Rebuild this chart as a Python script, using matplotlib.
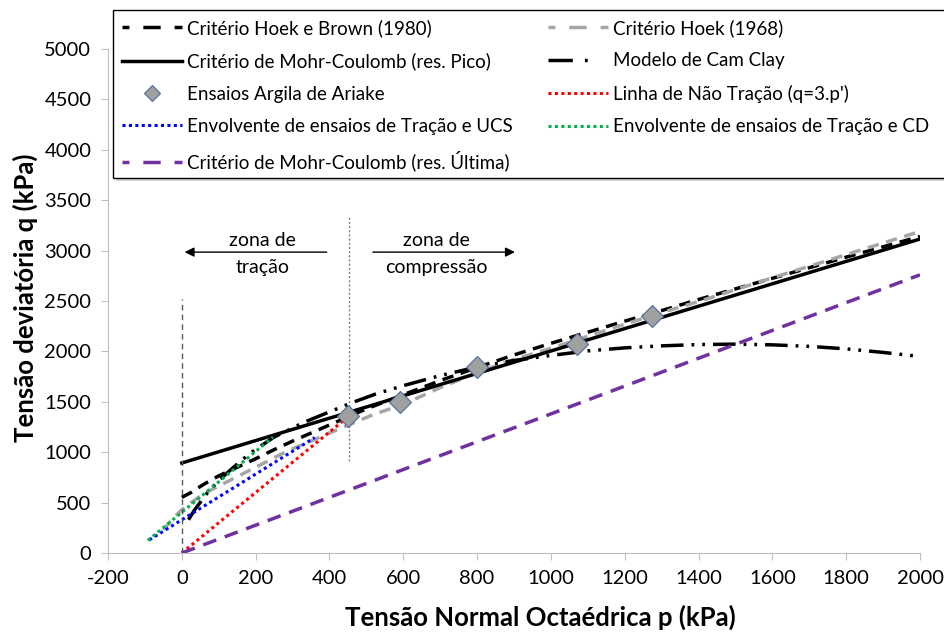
import numpy as np
import matplotlib
matplotlib.use('Agg')
import matplotlib.pyplot as plt
from matplotlib.patches import Rectangle
from matplotlib.lines import Line2D

plt.rcParams['font.family'] = ['Lato', 'DejaVu Sans']
plt.rcParams['axes.unicode_minus'] = False

# Ensaios Argila de Ariake
p_ens = [450, 590, 800, 1070, 1275]
q_ens = [1355, 1500, 1845, 2070, 2350]

# Criterio Hoek e Brown (1980)
p_hb = [0, 25, 50, 75, 100, 150, 200, 250, 300, 350, 400, 450, 500, 600, 700, 800,
        900, 1000, 1100, 1200, 1300, 1400, 1600, 1800, 2000]
q_hb = [552, 600, 660, 715, 765, 850, 935, 1025, 1110, 1190, 1270, 1350, 1430, 1570, 1710, 1840,
        1965, 2080, 2190, 2300, 2405, 2515, 2725, 2935, 3140]

# Criterio Hoek (1968)
p_hk = [-50, -20, 10, 60, 130, 200, 285, 400, 520, 600, 700, 800, 900, 1000, 1100,
        1200, 1300, 1400, 1600, 1800, 2000]
q_hk = [230, 360, 460, 590, 720, 850, 1010, 1190, 1375, 1475, 1640, 1790, 1920, 2030, 2150,
        2270, 2385, 2495, 2730, 2960, 3190]

# Mohr-Coulomb pico / ultima
p_mc = [0, 2000]
q_mc = [893, 3115]
p_mcu = [0, 2000]
q_mcu = [0, 2760]

# Modelo de Cam Clay
p_cc = [18, 35, 70, 100, 140, 185, 250, 330, 400, 460, 525, 600, 700, 800, 900, 1000,
        1100, 1200, 1300, 1400, 1500, 1600, 1700, 1800, 1900, 2000]
q_cc = [330, 430, 600, 720, 850, 990, 1150, 1295, 1400, 1490, 1577, 1660, 1760, 1845, 1910, 1960,
        2005, 2035, 2055, 2068, 2072, 2065, 2050, 2025, 1990, 1950]

# Linha de nao tracao (q = 3p) e envolventes
p_nt = [0, 440]
q_nt = [0, 1320]
p_ucs = [-88, 360]
q_ucs = [130, 1145]
p_cd = [-92, 247]
q_cd = [125, 1150]

fig = plt.figure(figsize=(9.45, 6.32), dpi=100)
ax = fig.add_axes([108 / 945, 1 - 553 / 632, 812 / 945, 504 / 632])

lw = 2.5
hb_style = (0, (3.3, 2.2))
h_hb, = ax.plot(p_hb, q_hb, color='black', lw=lw, ls=hb_style, label='Critério Hoek e Brown (1980)')
h_hk, = ax.plot(p_hk, q_hk, color='#a6a6a6', lw=lw, ls=hb_style, label='Critério Hoek (1968)')
h_mc, = ax.plot(p_mc, q_mc, color='black', lw=lw, label='Critério de Mohr-Coulomb (res. Pico)')
h_cc, = ax.plot(p_cc, q_cc, color='black', lw=lw, ls=(0, (6.5, 2.3, 0.8, 2.3, 0.8, 2.3)),
                label='Modelo de Cam Clay')
h_nt, = ax.plot(p_nt, q_nt, color='#ff0000', lw=2.2, ls=(0, (1, 1.1)), label="Linha de Não Tração (q=3.p')")
h_ucs, = ax.plot(p_ucs, q_ucs, color='#0000ff', lw=2.2, ls=(0, (1, 1.1)),
                 label='Envolvente de ensaios de Tração e UCS')
h_cd, = ax.plot(p_cd, q_cd, color='#00b050', lw=2.2, ls=(0, (1, 1.1)),
                label='Envolvente de ensaios de Tração e CD')
h_mcu, = ax.plot(p_mcu, q_mcu, color='#7030a0', lw=lw, ls=(0, (4, 2.6)),
                 label='Critério de Mohr-Coulomb (res. Última)')
h_ens, = ax.plot(p_ens, q_ens, ls='none', marker='D', ms=11, mfc='#a0a0a0', mec='#4f6b9a',
                 mew=0.8, zorder=5, label='Ensaios Argila de Ariake')

# zona de tracao / compressao
ax.plot([0, 0], [0, 2520], color='#595959', lw=1, ls=(0, (4, 3)))
ax.plot([453, 453], [910, 3330], color='#808080', lw=1, ls=(0, (1.5, 1.5)))
ax.annotate('', xy=(0, 2985), xytext=(400, 2985),
            arrowprops=dict(arrowstyle='-|>', color='black', lw=1, mutation_scale=14))
ax.annotate('', xy=(910, 2985), xytext=(510, 2985),
            arrowprops=dict(arrowstyle='-|>', color='black', lw=1, mutation_scale=14))
ax.text(219, 3100, 'zona de', ha='center', va='center', fontsize=14)
ax.text(219, 2830, 'tração', ha='center', va='center', fontsize=14)
ax.text(690, 3100, 'zona de', ha='center', va='center', fontsize=14)
ax.text(690, 2830, 'compressão', ha='center', va='center', fontsize=14)

ax.set_xlim(-200, 2000)
ax.set_ylim(0, 5000)
ax.set_xticks(np.arange(-200, 2001, 200))
ax.set_yticks(np.arange(0, 5001, 500))
for s in ['top', 'right']:
    ax.spines[s].set_visible(False)
for s in ['left', 'bottom']:
    ax.spines[s].set_color('#bfbfbf')
ax.tick_params(direction='out', length=5, color='#bfbfbf', labelsize=14.5, pad=7)

fig.text(540 / 945, 1 - 617 / 632, 'Tensão Normal Octaédrica p (kPa)', fontsize=18.5,
         fontweight='bold', ha='center', va='center')
fig.text(25 / 945, 1 - 298 / 632, 'Tensão deviatória q (kPa)', fontsize=18.5,
         fontweight='bold', ha='center', va='center', rotation=90)

# caixa da legenda com sombra
fig.patches.append(Rectangle((116 / 945, 1 - 181 / 632), 840 / 945, 168 / 632, transform=fig.transFigure,
                             facecolor='#bbbbbb', edgecolor='none', alpha=0.6, zorder=4))
fig.patches.append(Rectangle((113 / 945, 1 - 178 / 632), 840 / 945, 168 / 632, transform=fig.transFigure,
                             facecolor='white', edgecolor='black', lw=1, zorder=4))

# simbolos da legenda como no Excel
lg_hb = Line2D([], [], color='black', lw=lw, ls=(3, (5, 4)))
lg_hk = Line2D([], [], color='#a6a6a6', lw=lw, ls=(3, (5, 4)))
lg_mcu = Line2D([], [], color='#7030a0', lw=lw, ls=(3, (5, 4)))
lg_cc = Line2D([], [], color='black', lw=lw, ls=(0, (7, 3.5, 0.8, 20)))
lg_ens = Line2D([], [], ls='none', marker='D', ms=8, mfc='#a0a0a0', mec='#4f6b9a', mew=0.8)

handles = [lg_hb, h_mc, lg_ens, h_ucs, lg_mcu, lg_hk, lg_cc, h_nt, h_cd]
labels = [h_hb.get_label(), h_mc.get_label(), h_ens.get_label(), h_ucs.get_label(), h_mcu.get_label(),
          h_hk.get_label(), h_cc.get_label(), h_nt.get_label(), h_cd.get_label()]
leg = fig.legend(handles=handles, labels=labels, ncol=2,
                 loc='upper left', bbox_to_anchor=(122 / 945, 1 - 19 / 632), frameon=False,
                 fontsize=13.5, borderpad=0, handlelength=3.2, handletextpad=0.25,
                 labelspacing=0.82, columnspacing=1.9, borderaxespad=0)
leg.set_zorder(6)

fig.savefig('out.png', dpi=100)
